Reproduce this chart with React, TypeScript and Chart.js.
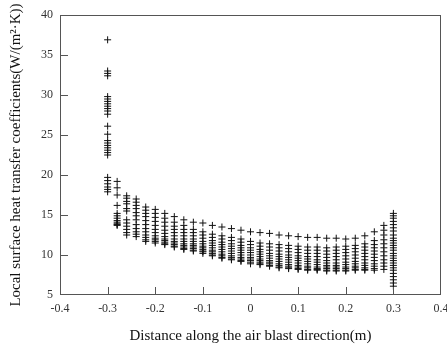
import React, { useEffect, useRef } from "react";
import { Chart, registerables } from "chart.js";

Chart.register(...registerables);

// x positions of the interior measurement columns (m)
const xCols = [
  -0.28, -0.26, -0.24, -0.22, -0.2, -0.18, -0.16, -0.14, -0.12, -0.1,
  -0.08, -0.06, -0.04, -0.02, 0, 0.02, 0.04, 0.06, 0.08, 0.1,
  0.12, 0.14, 0.16, 0.18, 0.2, 0.22, 0.24, 0.26, 0.28,
];

// heat transfer coefficient rows (W/(m²·K)), one value per interior column
const row0 = [19.2, 17.4, 17.0, 16.0, 15.7, 15.2, 14.8, 14.4, 14.1, 14.0, 13.7, 13.5, 13.3, 13.1, 12.9, 12.8, 12.7, 12.5, 12.4, 12.3, 12.2, 12.2, 12.1, 12.1, 12.0, 12.1, 12.4, 12.9, 13.7];
const row1 = [18.4, 17.1, 16.6, 15.6, 15.2, 14.6, 14.1, 13.7, 13.2, 12.9, 12.6, 12.4, 12.2, 12.0, 11.7, 11.5, 11.4, 11.3, 11.2, 11.1, 11.0, 11.0, 10.9, 11.0, 11.1, 11.2, 11.4, 11.8, 13.1];
const row2 = [17.5, 16.7, 16.2, 15.2, 14.7, 14.1, 13.6, 13.2, 12.8, 12.5, 12.2, 12.0, 11.8, 11.6, 11.3, 11.1, 11.0, 10.9, 10.8, 10.7, 10.6, 10.6, 10.5, 10.6, 10.7, 10.8, 11.0, 11.3, 12.5];
const row3 = [16.2, 16.4, 15.8, 14.8, 14.2, 13.6, 13.2, 12.8, 12.4, 12.1, 11.8, 11.6, 11.4, 11.2, 10.9, 10.7, 10.6, 10.5, 10.4, 10.3, 10.2, 10.2, 10.1, 10.2, 10.3, 10.4, 10.6, 10.9, 11.9];
const row4 = [15.2, 15.8, 15.3, 14.3, 13.7, 13.1, 12.8, 12.4, 12.0, 11.7, 11.5, 11.3, 11.1, 10.9, 10.6, 10.4, 10.2, 10.1, 10.0, 9.9, 9.8, 9.8, 9.7, 9.8, 9.9, 10.0, 10.2, 10.5, 11.4];
const row5 = [14.9, 15.5, 14.9, 13.8, 13.2, 12.7, 12.4, 12.0, 11.7, 11.4, 11.2, 11.0, 10.8, 10.6, 10.3, 10.1, 9.9, 9.8, 9.7, 9.6, 9.5, 9.4, 9.3, 9.4, 9.5, 9.6, 9.8, 10.1, 10.9];
const row6 = [14.6, 14.4, 14.4, 13.3, 12.8, 12.3, 12.0, 11.7, 11.4, 11.1, 10.9, 10.7, 10.5, 10.3, 10.0, 9.8, 9.6, 9.5, 9.4, 9.3, 9.2, 9.1, 9.0, 9.0, 9.1, 9.2, 9.4, 9.7, 10.4];
const row7 = [14.3, 14.0, 13.8, 12.9, 12.4, 12.0, 11.7, 11.4, 11.2, 10.9, 10.6, 10.4, 10.2, 10.0, 9.7, 9.5, 9.3, 9.2, 9.1, 9.0, 8.9, 8.8, 8.7, 8.7, 8.8, 8.9, 9.0, 9.3, 9.9];
const row8 = [14.1, 13.6, 13.3, 12.5, 12.1, 11.8, 11.5, 11.2, 11.0, 10.7, 10.4, 10.1, 9.9, 9.7, 9.5, 9.3, 9.1, 8.9, 8.8, 8.7, 8.6, 8.5, 8.5, 8.5, 8.5, 8.6, 8.7, 8.9, 9.4];
const row9 = [13.9, 13.2, 12.9, 12.2, 11.9, 11.6, 11.3, 11.0, 10.8, 10.5, 10.2, 9.9, 9.7, 9.5, 9.3, 9.1, 8.9, 8.7, 8.6, 8.5, 8.4, 8.3, 8.3, 8.3, 8.3, 8.4, 8.4, 8.6, 9.0];
const row10 = [13.8, 12.8, 12.6, 11.9, 11.7, 11.4, 11.1, 10.8, 10.6, 10.4, 10.0, 9.7, 9.5, 9.3, 9.1, 8.9, 8.7, 8.5, 8.4, 8.3, 8.2, 8.2, 8.1, 8.1, 8.1, 8.2, 8.2, 8.3, 8.6];
const row11 = [13.7, 12.5, 12.3, 11.7, 11.5, 11.3, 11.0, 10.7, 10.5, 10.2, 9.9, 9.6, 9.4, 9.2, 8.9, 8.8, 8.6, 8.4, 8.3, 8.2, 8.1, 8.1, 8.0, 8.0, 8.0, 8.1, 8.1, 8.1, 8.2];

// the two edge columns
const leftEdgeX = -0.3;
const leftEdge = [36.9, 33.0, 32.7, 32.4, 29.8, 29.5, 29.2, 28.9, 28.6, 28.3, 28.0, 27.6, 26.1, 25.1, 24.3, 24.0, 23.7, 23.4, 23.1, 22.8, 22.5, 19.7, 19.3, 18.9, 18.5, 18.2, 17.9];
const rightEdgeX = 0.3;
const rightEdge = [15.2, 14.9, 14.6, 14.2, 13.8, 13.4, 13.0, 12.5, 12.1, 11.8, 11.5, 11.2, 10.9, 10.6, 10.2, 9.9, 9.6, 9.3, 9.0, 8.7, 8.4, 8.1, 7.7, 7.3, 6.9, 6.5, 6.1];

const rows = [row0, row1, row2, row3, row4, row5, row6, row7, row8, row9, row10, row11];

const xTitle = "Distance along the air blast direction(m)";
const yTitle = "Local surface heat transfer coefficients(W/(m²·K))";
const xInnerTicks = [-0.3, -0.2, -0.1, 0, 0.1, 0.2, 0.3];
const yInnerTicks = [10, 15, 20, 25, 30, 35];

const FONT = '"Liberation Serif", "Times New Roman", serif';

export default function App() {
  const ref = useRef<HTMLCanvasElement | null>(null);

  useEffect(() => {
    if (!ref.current) return;
    const pointStyle = {
      showLine: false,
      pointStyle: "cross" as const,
      pointRadius: 3.5,
      pointHoverRadius: 3.5,
      borderWidth: 1,
      borderColor: "#111",
      backgroundColor: "#111",
    };
    const datasets: any[] = rows.map((r, k) => ({
      label: "row" + k,
      data: r.map((y, i) => ({ x: xCols[i], y })),
      ...pointStyle,
    }));
    datasets.push({ label: "left", data: leftEdge.map((y) => ({ x: leftEdgeX, y })), ...pointStyle });
    datasets.push({ label: "right", data: rightEdge.map((y) => ({ x: rightEdgeX, y })), ...pointStyle });

    const boxPlugin = {
      id: "boxTicks",
      afterDraw(chart: any) {
        const { ctx, chartArea, scales } = chart;
        const { left, right, top, bottom } = chartArea;
        ctx.save();
        ctx.strokeStyle = "#555";
        ctx.lineWidth = 1;
        ctx.strokeRect(left + 0.5, top + 0.5, right - left - 1, bottom - top - 1);
        ctx.beginPath();
        for (const v of yInnerTicks) {
          const py = Math.round(scales.y.getPixelForValue(v)) + 0.5;
          ctx.moveTo(left, py);
          ctx.lineTo(left + 8, py);
        }
        for (const v of xInnerTicks) {
          const px = Math.round(scales.x.getPixelForValue(v)) + 0.5;
          ctx.moveTo(px, bottom);
          ctx.lineTo(px, bottom - 8);
        }
        ctx.stroke();
        ctx.restore();
      },
    };

    const chart = new Chart(ref.current, {
      type: "scatter",
      data: { datasets },
      plugins: [boxPlugin],
      options: {
        animation: false,
        responsive: true,
        maintainAspectRatio: false,
        layout: { padding: { left: 0, top: 15, right: 6, bottom: 0 } },
        plugins: { legend: { display: false }, tooltip: { enabled: false } },
        scales: {
          x: {
            type: "linear",
            min: -0.4,
            max: 0.4,
            grid: { display: false, drawTicks: false },
            border: { display: false },
            ticks: {
              stepSize: 0.1,
              padding: 7,
              color: "#333",
              font: { family: FONT, size: 12 },
              maxRotation: 0,
              callback: (v: any) => (Math.abs(Number(v)) < 1e-9 ? "0" : Number(v).toFixed(1)),
            },
            title: {
              display: true,
              text: xTitle,
              color: "#111",
              font: { family: FONT, size: 15 },
              padding: { top: 0, bottom: 2 },
            },
            afterFit(scale: any) {
              scale.height = 52;
              scale.paddingLeft = 0;
              scale.paddingRight = 0;
            },
          },
          y: {
            type: "linear",
            min: 5,
            max: 40,
            grid: { display: false, drawTicks: false },
            border: { display: false },
            ticks: {
              stepSize: 5,
              padding: 7,
              color: "#333",
              font: { family: FONT, size: 12 },
            },
            title: {
              display: true,
              text: yTitle,
              color: "#111",
              font: { family: FONT, size: 15 },
              padding: { top: 7, bottom: 0 },
            },
            afterFit(scale: any) {
              scale.width = 60;
              scale.paddingTop = 0;
              scale.paddingBottom = 0;
            },
          },
        },
      },
    });
    return () => chart.destroy();
  }, []);

  return (
    <div style={{ position: "absolute", left: 0, top: 0, width: 447, height: 347, background: "#fff" }}>
      <canvas ref={ref} />
    </div>
  );
}
